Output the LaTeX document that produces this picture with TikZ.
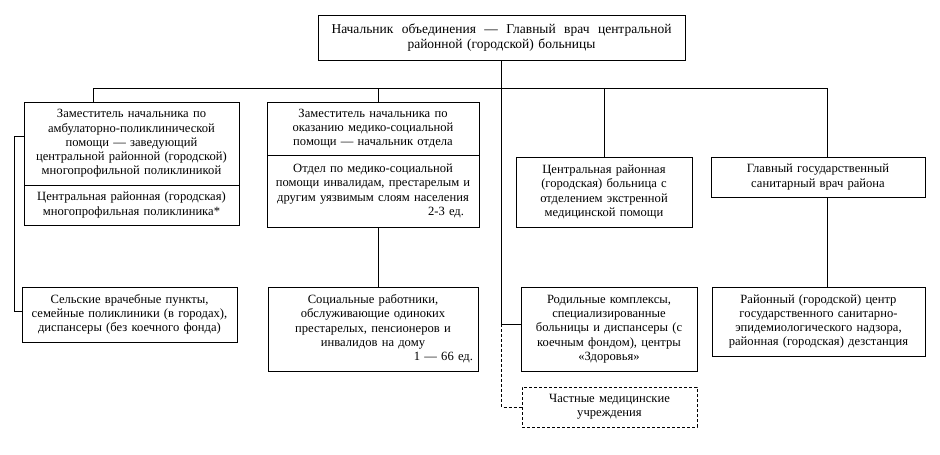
\documentclass[tikz,border=0pt]{standalone}
\usepackage{fontspec}
\setmainfont{Liberation Serif}
\begin{document}
\begin{tikzpicture}[x=1pt,y=-1pt,
  box/.style={draw, line width=0.9pt, inner sep=0pt, align=center,
    font=\fontsize{12.6}{14.3}\selectfont},
  ln/.style={line width=0.9pt},
  dln/.style={line width=0.9pt, dash pattern=on 3pt off 2pt}]
\useasboundingbox (0,0) rectangle (940,455);

\node[box, minimum width=367pt, minimum height=45pt, text width=360pt,
  font=\fontsize{13.5}{15}\selectfont] (top) at (501.5,37.5)
  {\makebox[340pt]{Начальник\hfill объединения\hfill —\hfill Главный\hfill врач\hfill центральной}\\районной (городской) больницы};

\node[box, minimum width=215pt, minimum height=83pt, text width=209pt] (b1up) at (131.5,143.5)
  {Заместитель начальника по\\амбулаторно-поликлинической\\помощи — заведующий\\центральной районной (городской)\\многопрофильной поликлиникой};
\node[box, minimum width=215pt, minimum height=40pt, text width=209pt] (b1low) at (131.5,205)
  {Центральная районная (городская)\\многопрофильная поликлиника*};

\node[box, minimum width=212pt, minimum height=53pt, text width=206pt] (b2up) at (373,128.5)
  {Заместитель начальника по\\оказанию медико-социальной\\помощи — начальник отдела};
\node[box, minimum width=212pt, minimum height=72pt, text width=206pt] (b2low) at (373,191)
  {Отдел по медико-социальной\\помощи инвалидам, престарелым и\\другим уязвимым слоям населения\\\mbox{}\hfill 2-3 ед.\rule{12pt}{0pt}};

\node[box, minimum width=176pt, minimum height=70pt, text width=170pt] (b3) at (604,192)
  {Центральная районная\\(городская) больница с\\отделением экстренной\\медицинской помощи};

\node[box, minimum width=214pt, minimum height=40pt, text width=208pt] (b4) at (818,177)
  {Главный государственный\\санитарный врач района};

\node[box, minimum width=215pt, minimum height=55pt, text width=209pt] (b5) at (129.5,314.5)
  {Сельские врачебные пункты,\\семейные поликлиники (в городах),\\диспансеры (без коечного фонда)};

\node[box, minimum width=210pt, minimum height=84pt, text width=204pt] (b6) at (373,329)
  {Социальные работники,\\обслуживающие одиноких\\престарелых, пенсионеров и\\инвалидов на дому\\\mbox{}\hfill 1 — 66 ед.\rule{2pt}{0pt}};

\node[box, minimum width=176pt, minimum height=84pt, text width=170pt] (b7) at (609,329)
  {Родильные комплексы,\\специализированные\\больницы и диспансеры (с\\коечным фондом), центры\\«Здоровья»};

\node[box, dln, minimum width=175pt, minimum height=40pt, text width=169pt] (b8) at (609.5,407)
  {Частные медицинские\\учреждения};

\node[box, minimum width=213pt, minimum height=69pt, text width=207pt] (b9) at (818.5,321.5)
  {Районный (городской) центр\\государственного санитарно-\\эпидемиологического надзора,\\районная (городская) дезстанция};

% bus
\coordinate (busL) at (93,88);
\coordinate (busR) at (827,88);
\draw[ln] (busL) -- (busR);
\draw[ln] (busL) -- (busL |- b1up.north);
\draw[ln] ([xshift=5pt]b2up.north) -- ([xshift=5pt]b2up.north |- busL);
\draw[ln] (b3.north) -- (b3.north |- busL);
\draw[ln] (busR) -- (busR |- b4.north);
% trunk
\coordinate (tj) at ([yshift=5pt]top.south |- b7.west);
\draw[ln] (top.south) -- (tj) -- (tj -| b7.west);
\draw[dln] (tj) |- (b8.west);
% left branch
\draw[ln] ([yshift=7.5pt]b1up.west) -- ++(-9,0) |- ([yshift=3.5pt]b5.west);
% lower connectors
\draw[ln] ([xshift=5pt]b2low.south) -- ([xshift=5pt]b2low.south |- b6.north);
\draw[ln] ([xshift=9pt]b4.south) -- ([xshift=9pt]b4.south |- b9.north);
\end{tikzpicture}
\end{document}
